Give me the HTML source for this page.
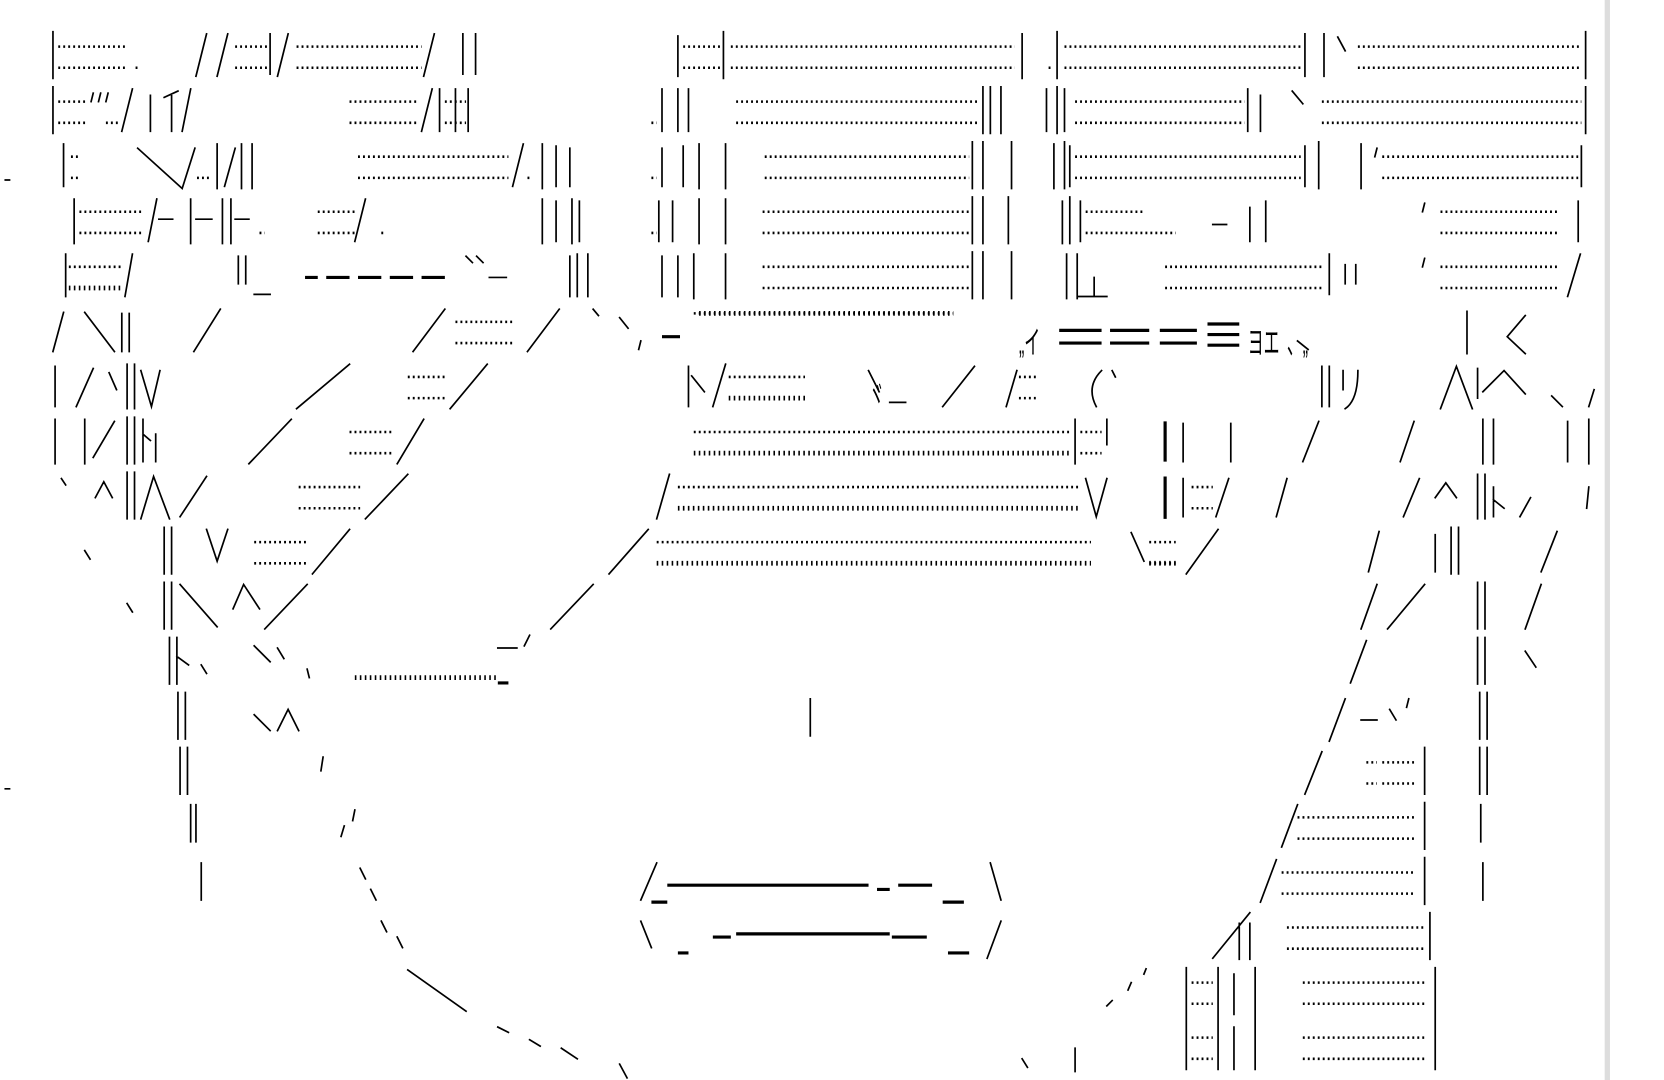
<!DOCTYPE html>
<html><head><meta charset="utf-8"><style>
html,body{margin:0;padding:0;background:#fff;width:1664px;height:1080px;overflow:hidden}
svg{display:block}
.l{stroke:#000;stroke-width:1.6;fill:none;stroke-linecap:square}
.b{stroke:#000;stroke-width:3;fill:none}
.d{stroke:#000;stroke-width:2.4;fill:none;stroke-dasharray:1.8 2.9}
.c{stroke:#000;stroke-width:4.5;fill:none;stroke-dasharray:1.5 3.2}
.t{font-family:"Liberation Sans","Noto Sans CJK JP",sans-serif;font-size:15px;fill:#000}
</style></head><body>
<svg width="1664" height="1080" viewBox="0 0 1571 1020" preserveAspectRatio="none" xmlns="http://www.w3.org/2000/svg">
<rect x="1515" y="0" width="5" height="1020" fill="#ddd"/>
<path class="d" d="
M55 44H118M55 64H118 M128 64H132 M222 44H255M222 64H255 M280 44H398M280 64H398 M645 44H680M645 64H680 M690 44H958M690 64H958 M1005 44H1228M1005 64H1228 M1282 44H1493M1282 64H1493 M990 64H993
M55 96H82M55 116H82 M100 116H112 M330 96H395M330 116H395 M420 96H440M420 116H440 M695 96H925M695 116H925 M1015 96H1175M1015 116H1175 M1248 96H1493M1248 116H1493 M615 116H620
M67 148H75M67 168H75 M186 168H200 M338 148H480M338 168H480 M722 148H915M722 168H915 M1015 148H1228M1015 168H1228 M1305 148H1490M1305 168H1490 M498 168H502 M615 168H620
M75 200H135M75 220H135 M300 200H335M300 220H335 M720 200H915M720 220H915 M1025 200H1080M1025 220H1110 M1360 200H1470M1360 220H1470 M245 220H250 M360 220H364 M615 220H620
M65 252H115 M720 252H915M720 272H915 M1100 252H1250M1100 272H1250 M1360 252H1470M1360 272H1470
M430 304H485M430 324H485 M655 296H900
M385 356H420M385 376H420 M688 356H760 M962 356H980M962 376H980
M330 408H370M330 428H370 M655 408H1010 M1020 408H1040M1020 428H1040
M282 460H340M282 480H340 M640 460H1020 M1125 460H1145M1125 480H1145
M240 512H290M240 532H290 M620 512H1030 M1085 512H1110M1085 532H1110
M1290 720H1300M1305 720H1335M1290 740H1300M1305 740H1335
M1225 772H1335M1225 792H1335
M1210 824H1335M1210 844H1335
M1215 876H1345M1215 896H1345
M1125 928H1145M1125 948H1145 M1230 928H1345M1230 948H1345
M1125 980H1145M1125 1000H1145 M1230 980H1345M1230 1000H1345"/>
<path class="c" d="M65 272H115 M688 376H760 M655 428H1010 M640 480H1020 M620 532H1030 M1085 532H1110 M335 640H470 M660 296H900"/>
<path class="l" d="
M50 30V74 M683 30V74 M998 30V74 M1497 30V74 M437 32V70 M449 32V70 M255 32V70 M965 32V74 M640 34V72 M1232 32V72 M1250 32V72
M195 32L185 72 M215 32L205 72 M272 32L262 72 M410 32L400 72 M1263 35L1270 48
M50 82V126 M625 84V124 M640 84V124 M650 84V124 M928 82V126 M935 82V126 M945 82V126 M988 84V124 M998 82V126 M1005 84V124 M1178 84V124 M1190 90V124 M1497 82V126
M88 88L86 96 M95 88L93 96 M102 88L100 96 M125 84L115 124 M142 90V124 M155 92L168 86M162 89V124 M180 84L172 124 M408 84L398 124 M415 84V124 M430 84V124 M442 84V124 M1220 86L1230 98
M60 136V176 M130 140L172 178L184 140 M205 136V178 M228 136V178 M238 136V178 M222 140L212 176 M494 136L484 176 M512 136V178 M525 138V176 M538 140V176
M625 140V176 M645 138V176 M660 136V178 M685 136V178 M918 134V178 M928 134V178 M955 134V178 M995 136V178 M1005 134V178 M1010 138V176 M1232 138V176 M1245 134V178 M1285 136V178 M1493 138V176 M1300 140L1298 148
M70 188V230 M148 188L140 228 M150 207H163 M180 188V230 M210 188V230 M218 188V230 M185 207H200 M222 207H235 M345 188L335 228
M512 188V230 M525 190V228 M540 188V230 M547 190V228 M622 190V228 M635 190V228 M660 188V230 M685 188V230 M918 186V230 M928 186V230 M952 186V230
M1003 190V230 M1010 186V230 M1020 190V228 M1145 212H1158 M1180 196V228 M1195 190V228 M1345 192L1343 200 M1490 190V228
M62 240V280 M125 240L118 280 M225 242V268 M232 242V268 M240 278H255 M462 262H478 M545 240V280 M555 240V280 M538 242V280
M625 242V280 M640 242V280 M655 240V282 M685 240V282 M918 238V282 M928 238V282 M955 238V282 M1007 240V282 M1017 240V282 M1033 262V280 M1017 280H1045
M1255 240V278 M1270 250V268 M1280 250V268 M1345 244L1343 252 M1492 240L1480 280 M440 242L446 248 M450 242L456 248
M60 295L50 332 M80 295L108 332 M115 296V332 M122 296V332 M208 292L183 332 M420 292L390 332 M528 292L498 332 M560 292L565 298 M585 300L593 310 M605 322L603 330
M1385 294V334 M1440 298L1423 318L1440 334 M1225 322L1235 330
M52 346V384 M72 384L88 348 M103 352L110 368 M120 344V386 M127 344V386 M133 350L143 384L151 350 M330 344L280 386 M460 344L425 386
M650 346V384 M653 355L665 370 M685 344L673 384 M820 350L830 370 M840 380H855 M920 346L890 384 M960 350L950 384 M1040 350Q1025 365 1035 384 M1050 350L1053 356
M1248 346V384 M1255 346V384 M1268 350V368M1282 350Q1282 378 1270 386 M1360 386L1375 346L1390 386 M1395 348V376 M1400 370L1420 350L1440 372 M1465 374L1475 384 M1505 368L1500 384
M52 396V438 M80 396V438 M108 398L88 432 M120 394V438 M127 394V438 M135 396V436 M135 410L142 416 M147 410V436 M275 396L235 438 M400 396L375 438
M1015 396V438 M1045 396V420 M1117 400V436 M1162 400V436 M1245 398L1230 436 M1335 398L1322 436 M1400 396V438 M1410 396V438 M1480 398V436 M1500 396V438
M58 452L62 458 M90 470L98 455L106 470 M120 446V490 M127 446V490 M133 490L145 450L160 490 M195 450L170 488 M385 448L345 490 M632 448L620 490
M1025 452L1035 488L1045 452 M1117 452V488 M1160 452L1148 488 M1215 452L1205 488 M1340 452L1325 488 M1355 470L1365 456L1375 470 M1395 448V490 M1402 448V490 M1410 460V488M1410 472L1420 480 M1445 470L1435 488 M1500 460L1498 480
M80 520L85 528 M155 498V542 M162 498V542 M195 500L205 530L215 500 M330 500L295 542 M612 500L575 542 M1068 503L1080 530 M1150 500L1120 542 M1302 502L1292 540 M1355 505V540 M1370 498V542 M1377 498V542 M1470 502L1455 540
M120 570L125 578 M155 550V594 M162 550V594 M170 552L205 592 M220 575L230 552L245 575 M290 552L250 594 M560 552L520 594 M1345 552L1310 594 M1300 552L1285 594 M1395 550V594 M1402 550V594 M1455 552L1440 594
M160 602V646 M167 602V646 M167 620L178 628 M190 628L195 636 M240 610L255 625 M262 612L268 622 M290 632L292 640 M470 612H488 M500 600L495 610 M1290 605L1275 645 M1395 602V646 M1402 602V646 M1440 615L1450 630
M168 654V698 M175 654V698 M240 675L255 690 M262 690L272 670L282 690 M765 660V695 M1270 660L1255 700 M1285 680H1300 M1312 670L1318 680 M1330 660L1328 668 M1397 654V698 M1404 654V698
M170 706V750 M177 706V750 M305 715L303 728 M1248 710L1232 750 M1345 706V750 M1397 706V750 M1404 706V750
M180 760V795 M185 760V795 M325 780L322 790 M335 765L333 775 M1225 760L1210 800 M1345 758V802 M1398 760V795
M190 815V850 M340 820L345 830 M350 840L355 850 M620 815L605 850 M935 815L945 850 M1205 812L1190 852 M1345 810V854 M1400 815V850
M360 870L365 880 M375 885L380 895 M605 870L615 895 M945 870L932 905 M1180 862L1145 905 M1170 872V906 M1180 872V906 M1350 862V906
M385 916L440 955 M1045 950L1050 945 M1065 935L1068 928 M1080 920L1082 915 M1120 914V1010 M1150 914V1010 M1165 920V958 M1185 914V1010 M1355 914V1010
M470 970L480 975 M500 982L510 988 M530 990L545 1000 M585 1005L592 1018 M965 1000L970 1008 M1015 990V1012 M1165 970V1010
M5 170H9 M5 745H9"/>
<path class="b" d="
M288 262H300M308 262H330M338 262H360M368 262H390M398 262H420 M625 318H642
M1000 312H1040M1000 324H1040 M1048 312H1085M1048 324H1085 M1095 312H1130M1095 324H1130 M1140 306H1170M1140 316H1170M1140 326H1170
M1100 398V436 M1100 450V490 M630 836H820 M828 840H840 M848 836H880 M615 852H630 M890 852H910
M673 885H690 M695 882H840 M842 885H875 M640 900H650 M895 900H915 M470 645H480"/>
<text class="t" transform="translate(1178,334) scale(1,2)">ヨエ</text>
<text class="t" transform="translate(962,334) scale(1,2)">„イ</text>
<text class="t" transform="translate(1215,334) scale(1,2)">、„</text>
<text class="t" transform="translate(820,384) scale(1,2)">ヾ</text>
</svg>
</body></html>
